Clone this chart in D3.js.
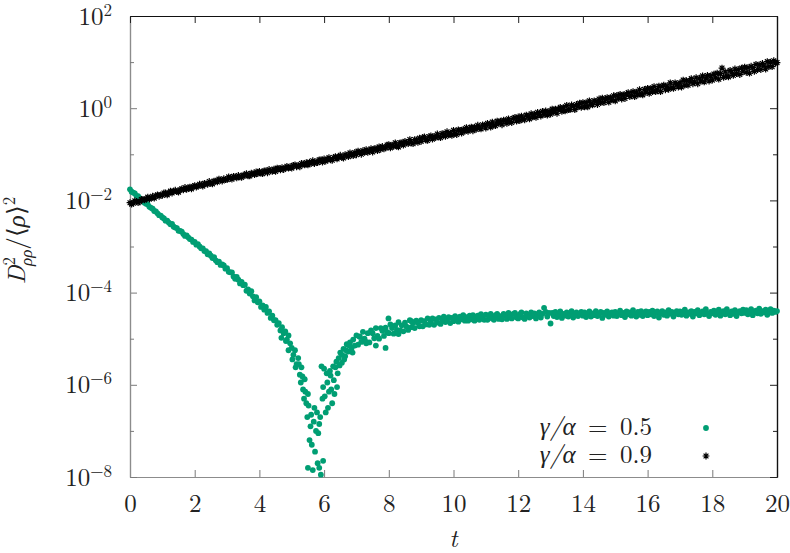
<!DOCTYPE html>
<meta charset="utf-8">
<style>
	body { margin: 0; background: #fff; }
	.axis-gray .domain { stroke: #8c8c8c; stroke-width: 1.2px; }
	.axis-gray .tick line { stroke: #7a7a7a; }
	.axis-dark .domain { stroke: #111; stroke-width: 1.2px; }
	.axis-dark .tick line { stroke: #222; }
	.dot05 { fill: #009e73; }
	.star09 { fill: none; stroke: #000; stroke-width: 1.2px; }
</style>
<body>
<div id="chart"></div>
<script src="https://d3js.org/d3.v7.min.js"></script>
<script>
	// sampling of both runs: t = tStart + i * tStep
	var tStart = 0;
	var tStep = 0.05;

	// log10 of D^2/<rho>^2 for gamma/alpha = 0.9 (black stars), one row per unit of t
	var logD09 = [
		-2.05,-2.08,-2.06,-2.01,-2.02,-2.05,-2.03,-1.98,-1.98,-1.99,-1.97,-1.93,-1.97,-1.95,-1.91,-1.95,-1.90,-1.88,-1.91,-1.88,
		-1.89,-1.84,-1.84,-1.88,-1.84,-1.80,-1.84,-1.80,-1.78,-1.81,-1.82,-1.77,-1.75,-1.77,-1.72,-1.76,-1.73,-1.71,-1.75,-1.70,
		-1.68,-1.71,-1.69,-1.65,-1.66,-1.69,-1.63,-1.64,-1.65,-1.59,-1.63,-1.64,-1.58,-1.58,-1.60,-1.54,-1.56,-1.58,-1.53,-1.55,
		-1.55,-1.49,-1.52,-1.54,-1.48,-1.49,-1.51,-1.46,-1.49,-1.50,-1.45,-1.46,-1.42,-1.47,-1.47,-1.41,-1.42,-1.44,-1.38,-1.42,
		-1.37,-1.41,-1.42,-1.36,-1.36,-1.40,-1.33,-1.36,-1.37,-1.32,-1.37,-1.30,-1.31,-1.34,-1.29,-1.33,-1.30,-1.26,-1.30,-1.27,
		-1.30,-1.24,-1.23,-1.27,-1.24,-1.27,-1.20,-1.21,-1.23,-1.18,-1.23,-1.17,-1.20,-1.14,-1.20,-1.16,-1.18,-1.12,-1.12,-1.17,
		-1.10,-1.15,-1.11,-1.07,-1.12,-1.13,-1.07,-1.05,-1.10,-1.06,-1.02,-1.07,-1.08,-1.01,-1.02,-1.05,-0.97,-1.01,-1.03,-0.96,
		-1.01,-0.93,-0.96,-1.00,-0.92,-0.96,-0.90,-0.96,-0.92,-0.88,-0.95,-0.88,-0.88,-0.92,-0.84,-0.89,-0.83,-0.88,-0.86,-0.80,
		-0.79,-0.86,-0.80,-0.83,-0.75,-0.82,-0.84,-0.75,-0.75,-0.80,-0.72,-0.75,-0.77,-0.68,-0.75,-0.77,-0.68,-0.69,-0.74,-0.65,
		-0.72,-0.64,-0.62,-0.69,-0.70,-0.62,-0.60,-0.67,-0.61,-0.64,-0.56,-0.62,-0.64,-0.55,-0.56,-0.61,-0.51,-0.58,-0.54,-0.59,
		-0.48,-0.55,-0.57,-0.47,-0.48,-0.54,-0.46,-0.50,-0.42,-0.50,-0.46,-0.41,-0.49,-0.41,-0.46,-0.37,-0.43,-0.45,-0.36,-0.38,
		-0.43,-0.33,-0.35,-0.41,-0.30,-0.37,-0.38,-0.28,-0.33,-0.28,-0.36,-0.26,-0.27,-0.33,-0.23,-0.29,-0.31,-0.22,-0.20,-0.28,
		-0.19,-0.27,-0.17,-0.23,-0.25,-0.15,-0.17,-0.23,-0.12,-0.19,-0.13,-0.20,-0.09,-0.14,-0.17,-0.07,-0.14,-0.06,-0.15,-0.07,
		-0.13,-0.02,-0.09,-0.02,-0.11,-0.02,0.02,-0.07,0.01,-0.06,0.06,-0.03,-0.03,0.07,0.04,-0.03,0.08,0.03,0.11,0.02,
		0.12,0.03,0.12,0.03,0.16,0.09,0.07,0.16,0.15,0.08,0.20,0.12,0.22,0.12,0.19,0.23,0.13,0.23,0.18,0.27,
		0.16,0.28,0.22,0.30,0.20,0.29,0.21,0.31,0.34,0.25,0.28,0.36,0.25,0.35,0.29,0.40,0.31,0.29,0.41,0.35,
		0.43,0.32,0.43,0.36,0.47,0.36,0.40,0.48,0.36,0.47,0.50,0.40,0.48,0.41,0.55,0.45,0.43,0.55,0.52,0.46,
		0.55,0.46,0.61,0.50,0.60,0.50,0.59,0.64,0.53,0.57,0.66,0.53,0.65,0.59,0.70,0.57,0.65,0.71,0.59,0.70,
		0.61,0.74,0.66,0.76,0.63,0.75,0.87,0.67,0.79,0.70,0.68,0.82,0.78,0.71,0.85,0.75,0.84,0.73,0.87,0.79,
		0.89,0.78,0.88,0.76,0.91,0.88,0.80,0.95,0.84,0.94,0.84,0.97,0.92,0.85,1.01,0.90,1.00,0.90,1.03,0.98,
		0.99
	];

	// log10 of D^2/<rho>^2 for gamma/alpha = 0.5 (green dots), same sampling
	var logD05 = [
		-1.76,-1.81,-1.83,-1.85,-1.90,-1.91,-1.95,-1.99,-2.00,-2.05,-2.07,-2.09,-2.14,-2.16,-2.18,-2.23,-2.24,-2.28,-2.32,-2.33,
		-2.37,-2.39,-2.44,-2.44,-2.48,-2.52,-2.51,-2.57,-2.59,-2.60,-2.66,-2.66,-2.68,-2.73,-2.77,-2.76,-2.80,-2.84,-2.85,-2.90,
		-2.90,-2.96,-2.95,-3.00,-3.04,-3.04,-3.10,-3.10,-3.17,-3.15,-3.20,-3.25,-3.23,-3.30,-3.34,-3.33,-3.40,-3.39,-3.41,-3.48,
		-3.47,-3.55,-3.56,-3.56,-3.65,-3.70,-3.66,-3.72,-3.80,-3.77,-3.84,-3.83,-3.96,-3.93,-4.02,-3.97,-4.08,-4.17,-4.10,-4.21,
		-4.19,-4.31,-4.28,-4.37,-4.31,-4.44,-4.41,-4.55,-4.50,-4.60,-4.60,-4.70,-4.66,-4.82,-4.75,-4.88,-4.84,-5.02,-4.93,-5.10,
		-5.20,-5.35,-5.25,-5.55,-5.42,-5.78,-5.62,-6.10,-5.88,-6.40,-6.20,-7.20,-6.65,-7.85,-6.50,-7.00,-7.70,-6.85,-7.95,-6.30,
		-5.65,-6.60,-5.95,-6.15,-5.80,-6.40,-5.90,-5.62,-6.05,-5.42,-5.30,-5.52,-5.22,-5.38,-5.12,-5.28,-5.08,-5.20,-5.02,-5.15,
		-4.93,-5.13,-4.96,-5.07,-4.85,-5.00,-5.07,-4.88,-5.08,-4.82,-4.88,-4.99,-4.77,-4.94,-5.00,-4.77,-4.83,-4.94,-4.76,-4.86,
		-4.88,-4.69,-4.77,-4.89,-4.71,-4.81,-4.64,-4.82,-4.71,-4.84,-4.65,-4.74,-4.81,-4.60,-4.75,-4.66,-4.77,-4.61,-4.66,-4.73,
		-4.60,-4.73,-4.62,-4.69,-4.56,-4.70,-4.62,-4.56,-4.70,-4.58,-4.65,-4.55,-4.68,-4.58,-4.52,-4.64,-4.60,-4.53,-4.66,-4.55,
		-4.62,-4.51,-4.56,-4.63,-4.52,-4.58,-4.49,-4.61,-4.53,-4.61,-4.50,-4.58,-4.49,-4.61,-4.53,-4.50,-4.59,-4.47,-4.55,-4.59,
		-4.48,-4.59,-4.51,-4.46,-4.56,-4.59,-4.49,-4.46,-4.57,-4.51,-4.58,-4.46,-4.49,-4.57,-4.44,-4.54,-4.56,-4.46,-4.44,-4.54,
		-4.56,-4.47,-4.43,-4.54,-4.57,-4.45,-4.49,-4.54,-4.43,-4.51,-4.45,-4.56,-4.47,-4.43,-4.54,-4.46,-4.33,-4.42,-4.52,-4.44,
		-4.67,-4.44,-4.51,-4.42,-4.53,-4.47,-4.41,-4.55,-4.46,-4.50,-4.43,-4.52,-4.45,-4.40,-4.54,-4.48,-4.43,-4.51,-4.46,-4.42,
		-4.50,-4.43,-4.53,-4.46,-4.41,-4.52,-4.45,-4.49,-4.40,-4.51,-4.47,-4.42,-4.55,-4.44,-4.48,-4.41,-4.52,-4.46,-4.43,-4.50,
		-4.42,-4.51,-4.45,-4.39,-4.49,-4.44,-4.53,-4.41,-4.47,-4.43,-4.50,-4.38,-4.46,-4.52,-4.42,-4.48,-4.40,-4.51,-4.45,-4.41,
		-4.49,-4.42,-4.47,-4.39,-4.51,-4.44,-4.41,-4.54,-4.45,-4.40,-4.48,-4.43,-4.50,-4.38,-4.46,-4.42,-4.52,-4.44,-4.40,-4.47,
		-4.41,-4.48,-4.44,-4.37,-4.50,-4.43,-4.46,-4.40,-4.52,-4.42,-4.45,-4.38,-4.49,-4.44,-4.41,-4.47,-4.36,-4.46,-4.51,-4.42,
		-4.45,-4.39,-4.48,-4.42,-4.37,-4.50,-4.43,-4.40,-4.47,-4.36,-4.44,-4.49,-4.41,-4.46,-4.38,-4.51,-4.43,-4.40,-4.45,-4.37,
		-4.44,-4.38,-4.47,-4.41,-4.36,-4.49,-4.42,-4.39,-4.45,-4.35,-4.46,-4.40,-4.43,-4.37,-4.48,-4.41,-4.36,-4.44,-4.39,-4.42,
		-4.40
	];

	// extra scattered points of the gamma/alpha = 0.5 run around the dip: [t, log10 value]
	var dip05 = [
		[4.68,-4.98],[4.82,-5.05],[4.90,-5.25],[5.02,-5.45],[5.12,-5.62],[5.22,-5.55],[5.28,-5.95],
		[5.33,-5.82],[5.38,-6.30],[5.42,-6.15],[5.48,-6.70],[5.50,-7.80],[5.52,-6.45],[5.58,-6.90],
		[5.62,-7.30],[5.68,-6.80],[5.72,-7.45],[5.78,-6.60],[5.82,-7.05],[5.85,-7.80],[5.88,-6.70],
		[5.92,-5.60],[5.97,-6.05],[5.97,-7.65],[6.02,-6.25],[6.08,-5.75],[6.12,-6.50],[6.18,-5.70],
		[6.22,-6.10],[6.28,-5.60],[6.32,-6.20],[6.38,-5.50],[6.42,-5.75],[6.48,-5.58],[6.55,-5.35],
		[6.62,-5.45],[6.68,-5.25],[6.78,-5.15],[6.88,-5.30],[7.10,-4.95],[7.30,-5.10],[7.60,-5.15],
		[7.90,-5.20],[7.99,-4.56],[8.30,-4.90],[8.70,-4.62]
	];

	var xTicks = [0, 2, 4, 6, 8, 10, 12, 14, 16, 18, 20];
	var yMajorExp = [-8, -6, -4, -2, 0, 2];
	var yMinorExp = [-7, -5, -3, -1, 1];
	var legendLabels = ["0.5", "0.9"];

	var FONT = "'Latin Modern Roman', 'Liberation Serif', serif";

	// set the dimensions and margins of the graph
	var W = 790, H = 553;
	var margin = {top: 16, right: 13, bottom: 76, left: 130},
			width = W - margin.left - margin.right,
			height = H - margin.top - margin.bottom;

	var x = d3.scaleLinear().domain([0, 20]).range([0, width]);
	var y = d3.scaleLog().domain([1e-8, 1e2]).range([height, 0]);

	function pow10(e) { return Math.pow(10, e); }
	function toPoints(logs) {
		return logs.map(function (v, i) { return {t: tStart + i * tStep, v: pow10(v)}; });
	}
	function inside(d) { return d.v >= 1e-8 && d.v <= 1e2; }

	var pts05 = toPoints(logD05).concat(dip05.map(function (d) { return {t: d[0], v: pow10(d[1])}; })).filter(inside);
	var pts09 = toPoints(logD09).filter(inside);

	var svg = d3.select("#chart").append("svg")
			.attr("width", W)
			.attr("height", H)
			.style("font-family", FONT)
			.append("g")
			.attr("transform", "translate(" + margin.left + "," + margin.top + ")");

	// exponent labels 10^n
	function expLabel(sel) {
		sel.each(function (e) {
			var t = d3.select(this);
			var n = Math.round(Math.log10(e));
			t.text(null);
			t.append("tspan").text("10");
			t.append("tspan")
					.style("font-size", "17px")
					.attr("dy", "-9")
					.text(n < 0 ? "\u2212" + (-n) : "" + n);
		});
	}

	function styleTickText(g) {
		g.selectAll(".tick text")
				.style("font-family", FONT)
				.style("font-size", "25px")
				.style("fill", "#222");
	}

	// bottom / left axes (gray), top / right (black)
	svg.append("g")
			.attr("class", "axis-gray")
			.attr("transform", "translate(0," + height + ")")
			.call(d3.axisBottom(x).tickValues(xTicks).tickSizeInner(-7).tickSizeOuter(0).tickPadding(17).tickFormat(d3.format("d")))
			.call(styleTickText);

	var yMajor = yMajorExp.map(pow10), yMinor = yMinorExp.map(pow10);

	svg.append("g")
			.attr("class", "axis-gray")
			.call(d3.axisLeft(y).tickValues(yMajor).tickSizeInner(-7).tickSizeOuter(0).tickPadding(18))
			.call(styleTickText)
			.selectAll(".tick text").call(expLabel);
	svg.append("g")
			.attr("class", "axis-gray")
			.call(d3.axisLeft(y).tickValues(yMinor).tickSizeInner(-4).tickSizeOuter(0).tickFormat(""));

	svg.append("g")
			.attr("class", "axis-dark")
			.call(d3.axisTop(x).tickValues(xTicks).tickSizeInner(-7).tickSizeOuter(0).tickFormat(""));
	svg.append("g")
			.attr("class", "axis-dark")
			.attr("transform", "translate(" + width + ",0)")
			.call(d3.axisRight(y).tickValues(yMajor).tickSizeInner(-7).tickSizeOuter(0).tickFormat(""));
	svg.append("g")
			.attr("class", "axis-dark")
			.attr("transform", "translate(" + width + ",0)")
			.call(d3.axisRight(y).tickValues(yMinor).tickSizeInner(-4).tickSizeOuter(0).tickFormat(""));

	svg.selectAll(".domain").attr("fill", "none");

	// gamma/alpha = 0.5
	svg.append("g").selectAll("circle")
			.data(pts05)
			.enter().append("circle")
			.attr("class", "dot05")
			.attr("cx", function (d) { return x(d.t); })
			.attr("cy", function (d) { return y(d.v); })
			.attr("r", 2.9);

	// gamma/alpha = 0.9
	var star = "M-3.4,0H3.4M0,-3.4V3.4M-2.4,-2.4L2.4,2.4M-2.4,2.4L2.4,-2.4";
	svg.append("g").selectAll("path")
			.data(pts09)
			.enter().append("path")
			.attr("class", "star09")
			.attr("d", star)
			.attr("transform", function (d) { return "translate(" + x(d.t) + "," + y(d.v) + ")"; });

	// legend
	var legend = svg.append("g").attr("transform", "translate(" + (width - 125) + "," + (height - 42) + ")");
	legendLabels.forEach(function (lab, i) {
		var row = legend.append("g").attr("transform", "translate(0," + (i * 28) + ")");
		var txt = row.append("text")
				.attr("text-anchor", "end")
				.style("font-size", "25px")
				.style("fill", "#222")
				.attr("y", 0);
		txt.append("tspan").style("font-style", "italic").text("\u03b3/\u03b1");
		txt.append("tspan").text("\u2002=\u2002" + lab);
		if (i === 0) {
			row.append("circle").attr("class", "dot05").attr("cx", 54).attr("cy", -7).attr("r", 2.9);
		} else {
			row.append("path").attr("class", "star09").attr("d", star).attr("transform", "translate(54,-7)");
		}
	});

	// x label
	svg.append("text")
			.attr("x", width / 2)
			.attr("y", height + 70)
			.attr("text-anchor", "middle")
			.style("font-size", "25px")
			.style("font-style", "italic")
			.style("fill", "#222")
			.text("t");

	// y label D^2_{rho rho} / <rho>^2
	var yl = svg.append("text")
			.attr("transform", "translate(" + (25 - margin.left) + "," + (height / 2 - 6) + ") rotate(-90)")
			.attr("text-anchor", "middle")
			.style("font-size", "25px")
			.style("fill", "#222");
	yl.append("tspan").style("font-style", "italic").text("D");
	yl.append("tspan").style("font-size", "17px").attr("dy", "-10").text("2");
	yl.append("tspan").style("font-size", "17px").style("font-style", "italic").attr("dx", "-9").attr("dy", "17").text("\u03c1\u03c1");
	yl.append("tspan").attr("dy", "-7").text("/\u27e8");
	yl.append("tspan").style("font-style", "italic").text("\u03c1");
	yl.append("tspan").text("\u27e9");
	yl.append("tspan").style("font-size", "17px").attr("dy", "-10").text("2");
</script>
</body>
